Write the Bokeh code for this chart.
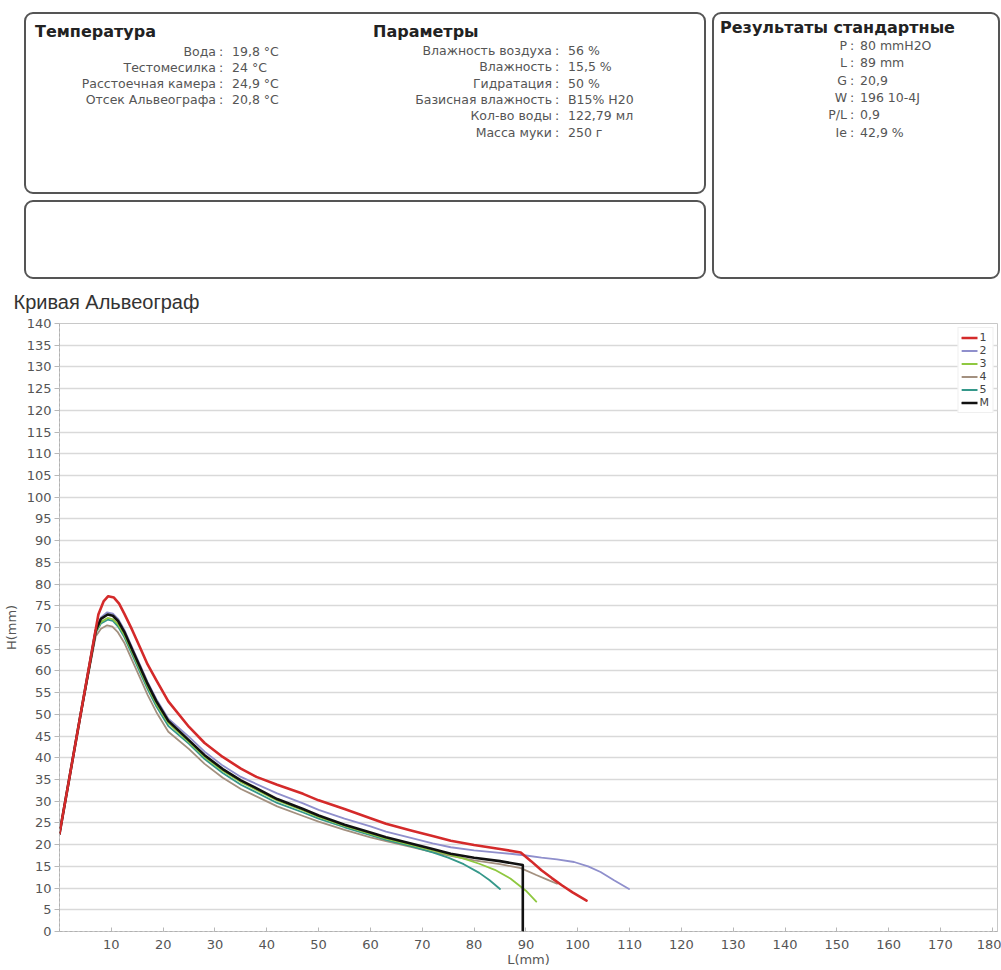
from bokeh.plotting import figure
from bokeh.models import Div, Legend, LegendItem, FixedTicker, Range1d
from bokeh.layouts import column
from bokeh.embed import file_html
from bokeh.resources import INLINE

# ---------------- info panels ----------------
temp_title = "Температура"
temp_labels = ["Вода", "Тестомесилка", "Расстоечная камера", "Отсек Альвеографа"]
temp_values = ["19,8 °C", "24 °C", "24,9 °C", "20,8 °C"]

param_title = "Параметры"
param_labels = ["Влажность воздуха", "Влажность", "Гидратация", "Базисная влажность", "Кол-во воды", "Масса муки"]
param_values = ["56 %", "15,5 %", "50 %", "B15% H20", "122,79 мл", "250 г"]

res_title = "Результаты стандартные"
res_labels = ["P", "L", "G", "W", "P/L", "Ie"]
res_values = ["80 mmH2O", "89 mm", "20,9", "196 10-4J", "0,9", "42,9 %"]

chart_title = "Кривая Альвеограф"
x_label = "L(mm)"
y_label = "H(mm)"
x_ticks = [10, 20, 30, 40, 50, 60, 70, 80, 90, 100, 110, 120, 130, 140, 150, 160, 170, 180]
y_ticks = list(range(0, 141, 5))

# ---------------- curves ----------------
names = ["1", "2", "3", "4", "5", "M"]

x1 = [0, 4, 7.5, 8.5, 9.4, 10.5, 11.5, 12.5, 14, 15.5, 17, 18.7, 21, 25, 28, 31.5, 35, 38, 42, 47, 50,
      55, 60, 63, 68, 72, 75.5, 80, 85, 89, 91, 93, 95, 97, 99, 101.7]
y1 = [22.5, 49.5, 73, 76, 77.2, 76.9, 75.5, 73.2, 69.5, 65.5, 61.5, 57.8, 53, 47.1, 43.4, 40.2, 37.5, 35.6, 33.8, 31.7, 30.2,
      28.2, 26.1, 24.8, 23.2, 22, 20.9, 19.9, 19, 18.2, 16.2, 14.1, 12.3, 10.6, 9, 7.1]

x2 = [0, 4, 7, 8, 9.2, 10.3, 11.3, 12.5, 14, 15.5, 17, 18.7, 21, 25, 28, 31.5, 35, 37, 42, 47, 50,
      55, 60, 63, 68, 72, 75.5, 80, 85, 87, 90, 93, 96, 99.3, 102, 104.4, 107, 109.9]
y2 = [22.5, 49.5, 69.5, 72.3, 73.5, 73.2, 72, 69.5, 65.5, 61.5, 57.5, 53.5, 49, 44.8, 41.4, 38.2, 35.6, 34.5, 31.8, 29.5, 28,
      26, 24.2, 23, 21.5, 20.3, 19.4, 18.7, 18.1, 17.9, 17.5, 17, 16.6, 16, 15, 13.7, 11.8, 9.8]

x3 = [0, 4, 7, 8, 9.3, 10.3, 11.3, 12.5, 14, 15.5, 17, 18.7, 21, 25, 28, 31.5, 35, 37, 42, 47, 50,
      55, 60, 63, 68, 72, 75.5, 78, 81, 84, 87, 90, 92]
y3 = [22.5, 49.5, 69, 71.3, 72.2, 71.9, 70.7, 68.3, 64.4, 60.4, 56.4, 52.4, 48, 43.6, 40.2, 37, 34.4, 33.2, 30.2, 27.9, 26.4,
      24.3, 22.5, 21.4, 19.9, 18.7, 17.6, 16.8, 15.6, 14.2, 12.2, 9.4, 6.9]

x4 = [0, 4, 7, 8, 9.2, 10.2, 11.2, 12.5, 14, 15.5, 17, 18.7, 21, 25, 28, 31.5, 35, 37, 42, 47, 50,
      55, 60, 63, 68, 72, 75.5, 80, 85, 89, 92, 94, 96]
y4 = [22.5, 49.5, 68, 69.7, 70.5, 70.2, 69, 66.5, 62.5, 58.5, 54.5, 50.5, 46, 42, 38.6, 35.4, 32.8, 31.7, 28.8, 26.6, 25.3,
      23.4, 21.7, 20.8, 19.4, 18.3, 17.4, 16.4, 15.5, 14.6, 13, 12, 11]

x5 = [0, 4, 7, 8, 9.3, 10.3, 11.3, 12.5, 14, 15.5, 17, 18.7, 21, 25, 28, 31.5, 35, 37, 42, 47, 50,
      55, 60, 63, 68, 72, 75, 78, 81, 83, 85]
y5 = [22.5, 49.5, 68.8, 70.9, 71.8, 71.5, 70.2, 67.8, 63.8, 59.8, 55.8, 51.8, 47.3, 43.2, 39.7, 36.5, 33.8, 32.6, 29.6, 27.4, 26,
      24, 22.2, 21.1, 19.6, 18.2, 17, 15.5, 13.5, 11.8, 9.8]

xm = [0, 4, 7, 8, 9.3, 10.3, 11.3, 12.5, 14, 15.5, 17, 18.7, 21, 25, 28, 31.5, 35, 37, 42, 47, 50,
      55, 60, 63, 68, 72, 75.5, 80, 85, 89.4, 89.4]
ym = [22.5, 49.5, 69.3, 72, 73, 72.7, 71.5, 69, 65, 61, 57, 53, 48.5, 44, 40.6, 37.4, 34.8, 33.6, 30.5, 28.2, 26.7,
      24.6, 22.8, 21.7, 20.2, 19, 17.9, 17, 16.2, 15.3, 0]

colors = {"1": "#d42a2a", "2": "#8f8fcc", "3": "#8fc840", "4": "#a3907f", "5": "#35988a", "M": "#111111"}
widths = {"1": 2.6, "2": 1.8, "3": 1.8, "4": 1.8, "5": 1.8, "M": 2.6}

# ---------------- top panels (HTML) ----------------
FONT = "'DejaVu Sans', sans-serif"


def box(left, top, w, h):
    return (f'<div style="position:absolute;left:{left}px;top:{top}px;width:{w}px;height:{h}px;'
            f'box-sizing:border-box;border:2px solid #555;border-radius:9px;background:#fff"></div>')


def title_html(text, left, yc):
    return (f'<div style="position:absolute;left:{left}px;top:{yc - 10}px;line-height:20px;'
            f'font-family:{FONT};font-weight:bold;font-size:16px;color:#222;white-space:nowrap">{text}</div>')


def rows_html(labels, values, colon_x, y0, step, voff):
    out = []
    for i, (lab, val) in enumerate(zip(labels, values)):
        yc = y0 + i * step
        top = yc - 7
        st = (f'position:absolute;top:{top}px;line-height:14px;white-space:nowrap;'
              f'font-family:{FONT};font-size:12.5px;color:#555;')
        out.append(f'<div style="{st}left:0px;width:{colon_x - 5}px;text-align:right">{lab}</div>')
        out.append(f'<div style="{st}left:{colon_x - 2}px">:</div>')
        out.append(f'<div style="{st}left:{colon_x + voff}px">{val}</div>')
    return "".join(out)


html = ['<div style="position:relative;width:1001px;height:275px;overflow:visible">']
html.append(box(24, 12, 682, 182))
html.append(box(24, 200, 682, 79))
html.append(box(712, 12, 288, 267))
html.append(title_html(temp_title, 35, 31.5))
html.append(rows_html(temp_labels, temp_values, 221, 51.5, 16, 11))
html.append(title_html(param_title, 373, 31.5))
html.append(rows_html(param_labels, param_values, 557, 50.7, 16.4, 11))
html.append(title_html(res_title, 720, 28.3))
html.append(rows_html(res_labels, res_values, 852, 46, 17.3, 8))
html.append('</div>')

div = Div(text="".join(html), width=1001, height=275, margin=(0, 0, 0, 0),
          styles={"overflow": "visible"})

# ---------------- chart ----------------
p = figure(width=1001, height=695, x_range=Range1d(0, 181), y_range=Range1d(0, 140),
           output_backend="svg", toolbar_location=None, title=chart_title,
           min_border_left=58, min_border_right=4, min_border_top=48, min_border_bottom=39,
           margin=(0, 0, 0, 0))

p.title.text_font = "Liberation Sans"
p.title.text_font_size = "20px"
p.title.text_font_style = "normal"
p.title.text_color = "#333333"
p.title.align = "left"
p.title.offset = -46
p.title.standoff = 22

p.outline_line_color = "#c8c8c8"
p.outline_line_width = 1
p.background_fill_color = "white"
p.border_fill_alpha = 0

p.xgrid.grid_line_color = None
p.ygrid.grid_line_color = "#d9d9d9"
p.ygrid.grid_line_width = 1.6

p.xaxis.ticker = FixedTicker(ticks=x_ticks)
p.yaxis.ticker = FixedTicker(ticks=y_ticks)

for ax in (p.xaxis[0], p.yaxis[0]):
    ax.axis_line_color = "#b0b0b0"
    ax.axis_line_dash = "3 2"
    ax.major_tick_line_color = "#b8b8b8"
    ax.minor_tick_line_color = None
    ax.major_label_text_font = "DejaVu Sans"
    ax.major_label_text_font_size = "13px"
    ax.major_label_text_color = "#555555"
    ax.axis_label_text_font = "DejaVu Sans"
    ax.axis_label_text_font_style = "normal"
    ax.axis_label_text_font_size = "13px"
    ax.axis_label_text_color = "#555555"

p.xaxis.axis_label = x_label
p.yaxis.axis_label = y_label
p.xaxis.major_tick_in = 4
p.xaxis.major_tick_out = 0
p.xaxis.major_label_standoff = 8
p.xaxis.axis_label_standoff = 0
p.yaxis.major_tick_in = 0
p.yaxis.major_tick_out = 5
p.yaxis.major_label_standoff = 3
p.yaxis.axis_label_standoff = 5

series = {"1": (x1, y1), "2": (x2, y2), "3": (x3, y3), "4": (x4, y4), "5": (x5, y5), "M": (xm, ym)}
renderers = {}
for key in ["4", "5", "3", "2", "M", "1"]:
    xs, ys = series[key]
    renderers[key] = p.line(xs, ys, line_color=colors[key], line_width=widths[key],
                            line_join="round", line_cap="round")

legend = Legend(items=[LegendItem(label=n, renderers=[renderers[n]]) for n in names],
                location="top_right")
legend.label_text_font = "DejaVu Sans"
legend.label_text_font_size = "11px"
legend.label_text_color = "#444444"
legend.label_height = 9
legend.label_width = 8
legend.glyph_height = 9
legend.glyph_width = 16
legend.label_standoff = 2
legend.spacing = 0
legend.padding = 3
legend.margin = 4
legend.border_line_color = "#e0e0e0"
legend.background_fill_alpha = 1
p.add_layout(legend)

layout = column(div, p, spacing=0)
open("out.html", "w").write(file_html(layout, INLINE))
